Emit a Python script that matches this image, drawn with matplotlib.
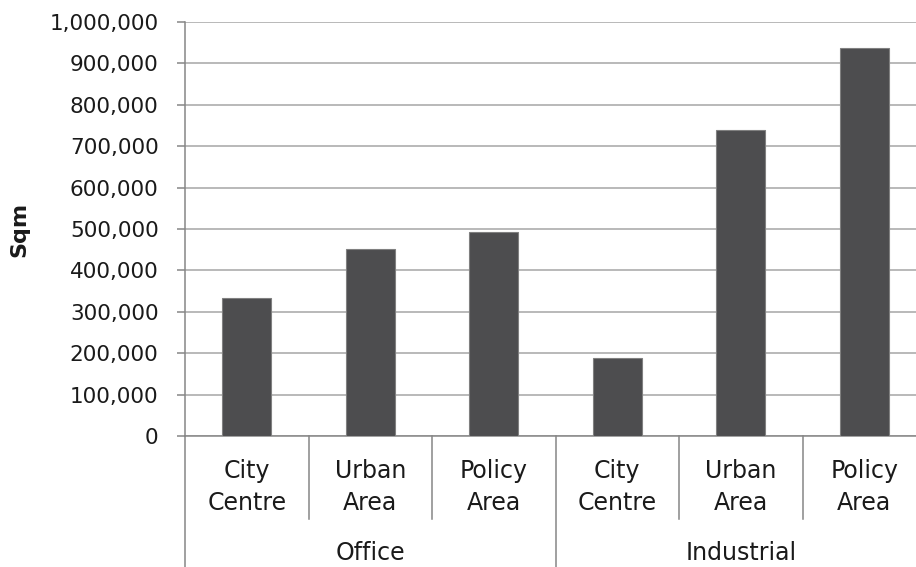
import matplotlib
matplotlib.use("Agg")
import matplotlib.pyplot as plt
import matplotlib.transforms as mtransforms
from matplotlib.ticker import FuncFormatter, MultipleLocator

# Data
groups = ["Office", "Industrial"]
sub_labels = ["City\nCentre", "Urban\nArea", "Policy\nArea"]
office_sqm = [334000, 452000, 492000]
industrial_sqm = [188000, 738000, 937000]

plt.rcParams['font.family'] = ['DejaVu Sans']

fig = plt.figure(figsize=(9.16, 5.67), dpi=100)
W, H = 916, 567
ax = fig.add_axes([185 / W, 131 / H, 741 / W, 414 / H])

values = office_sqm + industrial_sqm
labels = sub_labels + sub_labels
x = list(range(len(values)))

ax.bar(x, values, width=0.4, color='#4d4d4f', edgecolor='#808080', linewidth=0.8, zorder=3)

ax.set_xlim(-0.5, len(values) - 0.5)
ax.set_ylim(0, 1000000)
ax.yaxis.set_major_locator(MultipleLocator(100000))
ax.yaxis.set_major_formatter(FuncFormatter(lambda v, p: f"{v:,.0f}"))
ax.grid(axis='y', color='#a6a6a6', linewidth=1.1, zorder=0)
ax.set_axisbelow(True)

for side in ['top', 'right']:
    ax.spines[side].set_visible(False)
ax.spines['left'].set_color('#868686')
ax.spines['bottom'].set_color('#868686')
ax.spines['left'].set_linewidth(1.1)
ax.spines['bottom'].set_linewidth(1.1)

ax.tick_params(axis='y', length=6, width=1.1, color='#868686', pad=13,
               labelsize=15.5, labelcolor='#1a1a1a')
ax.tick_params(axis='x', length=0, labelbottom=False)

# Two-level category axis
trans = mtransforms.blended_transform_factory(ax.transData, ax.transAxes)
line_kw = dict(color='#868686', linewidth=1.1, transform=trans, clip_on=False)
sub_bottom = (436 - 519) / 414
fig_bottom = -131 / 414
n = len(sub_labels)
for i in range(1, len(values)):
    xpos = i - 0.5
    if i % n == 0:
        ax.plot([xpos, xpos], [0, fig_bottom], **line_kw)
    else:
        ax.plot([xpos, xpos], [0, sub_bottom], **line_kw)
ax.plot([-0.5, -0.5], [0, fig_bottom], **line_kw)

for i, lab in enumerate(labels):
    ax.text(i, (436 - 487) / 414, lab, transform=trans, ha='center', va='center',
            fontsize=17, color='#1a1a1a', linespacing=1.4)
for g, name in enumerate(groups):
    ax.text(g * n + (n - 1) / 2, (436 - 553) / 414, name, transform=trans,
            ha='center', va='center', fontsize=17, color='#1a1a1a')

fig.text(19 / W, 1 - 229 / H, "Sqm", rotation=90, ha='center', va='center',
         fontsize=16, fontweight='bold', color='#1a1a1a')

fig.savefig("out.png", dpi=100)
